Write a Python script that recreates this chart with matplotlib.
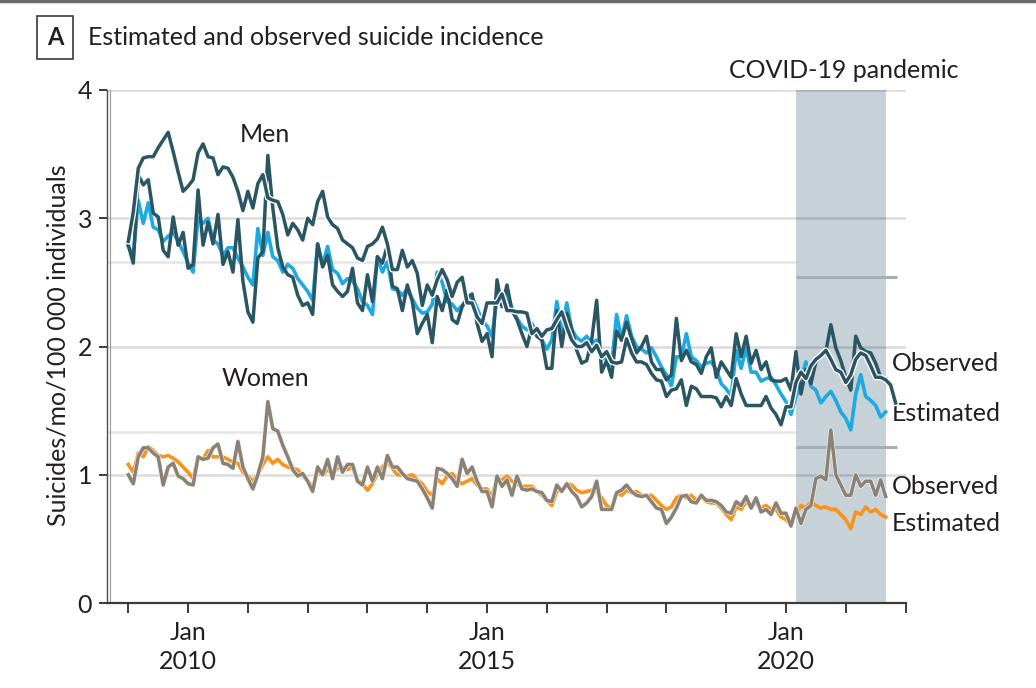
import numpy as np
import matplotlib
matplotlib.use("Agg")
import matplotlib.pyplot as plt
import matplotlib.patheffects as pe
from matplotlib.lines import Line2D

plt.rcParams['font.family'] = ['Lato', 'DejaVu Sans']

# ---------------------------
# Data: monthly rates from Jan 2009 (per 100 000 individuals)
# ---------------------------
first_year = 2009

men_estimated = [
    2.78, 2.71, 3.14, 2.96, 3.12, 2.93, 2.91, 2.82, 2.86, 2.89, 2.82, 2.74,
    2.65, 2.58, 3.00, 2.96, 3.00, 2.83, 2.80, 2.71, 2.77, 2.77, 2.69, 2.62,
    2.54, 2.48, 2.92, 2.71, 2.89, 2.70, 2.67, 2.58, 2.64, 2.61, 2.53, 2.48,
    2.43, 2.36, 2.80, 2.64, 2.78, 2.60, 2.57, 2.49, 2.53, 2.51, 2.45, 2.35,
    2.32, 2.25, 2.70, 2.58, 2.66, 2.45, 2.44, 2.40, 2.45, 2.37, 2.30, 2.26,
    2.27, 2.33, 2.58, 2.50, 2.35, 2.33, 2.28, 2.32, 2.36, 2.38, 2.30, 2.20,
    2.16, 2.08, 2.38, 2.32, 2.40, 2.30, 2.22, 2.16, 2.13, 2.18, 2.10, 2.05,
    1.98, 2.05, 2.35, 2.12, 2.34, 2.13, 2.07, 2.04, 2.08, 2.02, 2.05, 1.92,
    1.90, 1.85, 2.25, 2.05, 2.24, 2.08, 2.00, 1.98, 1.95, 1.99, 1.92, 1.84,
    1.78, 1.69, 1.92, 1.92, 2.10, 1.92, 1.89, 1.84, 1.87, 1.88, 1.82, 1.71,
    1.67, 1.61, 1.97, 1.83, 1.99, 1.80, 1.80, 1.73, 1.75, 1.76, 1.70, 1.63,
    1.57, 1.47, 1.61, 1.74, 1.88, 1.69, 1.66, 1.56, 1.61, 1.65, 1.58, 1.49,
    1.44, 1.35, 1.63, 1.78, 1.61, 1.58, 1.54, 1.45, 1.49,
]

men_observed = [
    2.79, 2.65, 3.34, 3.26, 3.30, 3.04, 3.01, 2.75, 2.70, 3.01, 2.79, 2.89,
    2.61, 2.64, 3.22, 2.79, 2.97, 2.80, 3.03, 2.64, 2.74, 2.58, 2.99, 2.51,
    2.27, 2.19, 2.69, 2.74, 3.49, 3.08, 2.77, 2.62, 2.56, 2.54, 2.40, 2.32,
    2.34, 2.25, 2.80, 2.62, 2.71, 2.48, 2.43, 2.39, 2.43, 2.61, 2.34, 2.28,
    2.56, 2.35, 2.70, 2.65, 2.79, 2.47, 2.45, 2.28, 2.48, 2.35, 2.10, 2.18,
    2.25, 2.03, 2.39, 2.28, 2.44, 2.21, 2.18, 2.31, 2.38, 2.41, 2.18, 2.04,
    2.10, 1.92, 2.52, 2.31, 2.48, 2.28, 2.21, 2.10, 2.00, 2.15, 2.08, 2.05,
    1.83, 1.83, 2.28, 2.00, 2.26, 2.14, 1.97, 1.87, 1.89, 2.05, 2.36, 1.80,
    1.89, 1.76, 2.12, 2.05, 2.19, 2.06, 1.95, 2.00, 2.08, 1.88, 1.82, 1.82,
    1.74, 1.78, 2.22, 1.89, 1.97, 1.88, 1.86, 1.79, 1.92, 1.99, 1.76, 1.88,
    1.82, 1.76, 2.10, 1.92, 2.08, 1.87, 1.97, 1.82, 1.88, 1.74, 1.73, 1.73,
    1.75, 1.66, 1.96, 1.63, 1.82, 1.71, 1.88, 1.93, 1.96, 2.17, 1.99, 1.89,
    1.76, 1.66, 2.08, 1.99, 1.96, 1.95, 1.87, 1.76, 1.75,
]

# second observed trace for men (outlined in white in the source figure)
men_observed_trace = [
    2.82, 3.05, 3.39, 3.47, 3.48, 3.48, 3.55, 3.61, 3.67, 3.52, 3.36, 3.21,
    3.25, 3.30, 3.51, 3.58, 3.48, 3.47, 3.34, 3.40, 3.39, 3.32, 3.21, 3.06,
    3.21, 3.08, 3.27, 3.34, 3.16, 3.14, 3.13, 3.03, 2.87, 2.96, 2.91, 2.83,
    3.00, 2.95, 3.13, 3.21, 3.01, 2.95, 2.92, 2.83, 2.80, 2.77, 2.69, 2.67,
    2.78, 2.80, 2.84, 2.93, 2.80, 2.60, 2.60, 2.75, 2.62, 2.67, 2.57, 2.32,
    2.48, 2.40, 2.52, 2.60, 2.52, 2.39, 2.50, 2.54, 2.34, 2.34, 2.23, 2.18,
    2.34, 2.34, 2.34, 2.41, 2.28, 2.28, 2.27, 2.27, 2.26, 2.10, 2.14, 2.08,
    2.13, 2.14, 2.21, 2.27, 2.15, 2.05, 2.00, 2.00, 2.03, 1.96, 2.01, 1.92,
    1.96, 1.88, 1.87, 1.88, 2.06, 1.95, 1.88, 1.88, 1.86, 1.79, 1.74, 1.73,
    1.61, 1.66, 1.67, 1.74, 1.54, 1.69, 1.67, 1.61, 1.61, 1.61, 1.60, 1.53,
    1.61, 1.54, 1.75, 1.63, 1.54, 1.54, 1.54, 1.54, 1.61, 1.52, 1.47, 1.39,
    1.53, 1.53, 1.72, 1.80, 1.75, 1.85, 1.90, 1.93, 1.97, 1.90, 1.82, 1.80,
    1.72, 1.78, 1.90, 1.95, 1.93, 1.85, 1.76, 1.76, 1.74, 1.70, 1.56,
]

women_estimated = [
    1.08, 1.02, 1.17, 1.14, 1.22, 1.19, 1.15, 1.14, 1.15, 1.13, 1.10, 1.06,
    1.02, 0.97, 1.14, 1.12, 1.19, 1.14, 1.14, 1.14, 1.12, 1.10, 1.09, 1.02,
    0.99, 0.95, 1.00, 1.08, 1.14, 1.09, 1.12, 1.08, 1.06, 1.05, 1.04, 0.99,
    0.95, 0.91, 1.02, 1.00, 1.04, 1.01, 1.05, 1.06, 1.04, 1.06, 0.96, 0.93,
    0.88, 0.93, 1.01, 1.06, 1.10, 1.05, 1.00, 1.00, 0.99, 1.00, 0.96, 0.93,
    0.87, 0.84, 0.97, 0.93, 0.99, 1.01, 0.96, 0.93, 0.95, 0.97, 0.92, 0.89,
    0.89, 0.83, 0.97, 0.96, 0.99, 0.95, 0.93, 0.91, 0.91, 0.91, 0.87, 0.84,
    0.80, 0.76, 0.87, 0.88, 0.93, 0.92, 0.88, 0.86, 0.87, 0.88, 0.87, 0.82,
    0.76, 0.74, 0.86, 0.84, 0.88, 0.86, 0.87, 0.84, 0.83, 0.84, 0.80, 0.76,
    0.73, 0.75, 0.82, 0.84, 0.82, 0.84, 0.80, 0.83, 0.79, 0.78, 0.78, 0.74,
    0.69, 0.65, 0.75, 0.73, 0.79, 0.75, 0.78, 0.74, 0.76, 0.73, 0.73, 0.67,
    0.65, 0.61, 0.70, 0.76, 0.74, 0.79, 0.76, 0.74, 0.75, 0.73, 0.73, 0.69,
    0.65, 0.58, 0.71, 0.69, 0.75, 0.71, 0.73, 0.69, 0.67,
]

women_observed = [
    1.00, 0.93, 1.14, 1.21, 1.21, 1.17, 1.14, 0.92, 1.06, 1.09, 0.99, 0.97,
    0.93, 0.92, 1.14, 1.12, 1.13, 1.21, 1.24, 1.09, 1.08, 1.05, 1.26, 1.06,
    0.97, 0.89, 1.00, 1.14, 1.57, 1.36, 1.34, 1.23, 1.14, 1.04, 0.99, 1.01,
    0.95, 0.87, 1.06, 1.00, 1.12, 0.97, 1.14, 1.02, 1.08, 1.08, 0.95, 0.92,
    1.06, 0.95, 1.06, 0.97, 1.15, 1.06, 1.06, 1.01, 0.97, 0.96, 0.95, 0.89,
    0.82, 0.74, 1.05, 1.04, 1.01, 0.97, 0.91, 1.12, 1.01, 1.06, 0.95, 0.87,
    0.87, 0.75, 0.99, 0.91, 0.96, 0.84, 0.99, 0.89, 0.88, 0.89, 0.87, 0.86,
    0.80, 0.79, 0.92, 0.87, 0.93, 0.87, 0.83, 0.75, 0.78, 0.83, 0.95, 0.73,
    0.73, 0.73, 0.86, 0.88, 0.92, 0.87, 0.84, 0.83, 0.84, 0.79, 0.74, 0.73,
    0.62, 0.67, 0.74, 0.83, 0.84, 0.79, 0.78, 0.84, 0.80, 0.80, 0.79, 0.76,
    0.71, 0.70, 0.79, 0.76, 0.83, 0.74, 0.82, 0.71, 0.73, 0.69, 0.78, 0.70,
    0.70, 0.60, 0.74, 0.62, 0.73, 0.76, 0.97, 0.99, 0.96, 1.35, 1.00, 0.92,
    0.84, 0.84, 1.00, 0.91, 0.95, 0.95, 0.84, 0.96, 0.83,
]

pandemic_start = 2020 + 2 / 12   # Mar 2020
pandemic_end = 2021 + 8 / 12     # Sep 2021

# faint extra rules that appear in the source figure
extra_rules_pre = [2.66, 1.33]
extra_rules_pandemic = [2.54, 1.22]
extra_rules_pandemic_end = 2021.85

year_ticks = list(range(2009, 2023))
labelled_years = [2010, 2015, 2020]


def months_to_years(series):
    return first_year + np.arange(len(series)) / 12


# ---------------------------
# Colours
# ---------------------------
C_MEN_OBS = "#2a5664"
C_MEN_EST = "#1ea9e1"
C_WOM_OBS = "#8b8275"
C_WOM_EST = "#f7941e"
C_SHADE = "#c6d1d8"
C_TEXT = "#231f20"
FS = 18

fig = plt.figure(figsize=(10.36, 6.88), dpi=100)
ax = fig.add_axes([0.1036, 0.1235, 0.7705, 0.7457])

ax.set_xlim(2008.649, 2022.0)
ax.set_ylim(0, 4)

# pandemic shading
ax.axvspan(pandemic_start, pandemic_end, color=C_SHADE, lw=0, zorder=0)

# gridlines (semi-transparent so they darken over the shading)
for v in [1, 2, 3, 4]:
    ax.axhline(v, color="black", alpha=0.14, lw=1.8, zorder=1)
ax.hlines(extra_rules_pre, 2008.649, pandemic_start, color="black", alpha=0.1, lw=1.8, zorder=1)
ax.hlines(extra_rules_pandemic, pandemic_start, extra_rules_pandemic_end,
          color="#a4afb7", lw=2.2, zorder=1)

halo = [pe.withStroke(linewidth=4.4, foreground="white")]
thin_halo = [pe.withStroke(linewidth=3.4, foreground="#f2f2f2")]

# women
ax.plot(months_to_years(women_estimated), women_estimated, color=C_WOM_EST, lw=2.6, zorder=3)
ax.plot(months_to_years(women_observed), women_observed, color=C_WOM_OBS, lw=2.5, zorder=4,
        path_effects=thin_halo)

# men
ax.plot(months_to_years(men_estimated), men_estimated, color=C_MEN_EST, lw=2.6, zorder=3)
ax.plot(months_to_years(men_observed), men_observed, color=C_MEN_OBS, lw=2.5, zorder=4)
ax.plot(months_to_years(men_observed_trace), men_observed_trace, color=C_MEN_OBS, lw=2.5,
        zorder=5, path_effects=halo)

# axes styling
for side in ["top", "right"]:
    ax.spines[side].set_visible(False)
ax.spines["left"].set_color("#4d4d4d")
ax.spines["bottom"].set_color("#3a3a3a")
ax.spines["left"].set_linewidth(1.0)
ax.spines["bottom"].set_linewidth(1.6)
ax.add_line(Line2D([0.003, 0.003], [0, 1], transform=ax.transAxes, color="#9a9a9a", lw=0.8))

ax.set_yticks([0, 1, 2, 3, 4])
ax.set_xticks(year_ticks)
ax.set_xticklabels(["Jan\n%d" % y if y in labelled_years else "" for y in year_ticks])
ax.tick_params(axis="y", length=6, width=1.4, color="#3a3a3a", pad=5,
               labelsize=FS, labelcolor=C_TEXT)
ax.tick_params(axis="x", length=7, width=1.4, color="#3a3a3a", pad=6,
               labelsize=FS, labelcolor=C_TEXT)
for lab in ax.get_xticklabels():
    lab.set_linespacing(1.3)

fig.text(0.056, 0.4985, "Suicides/mo/100 000 individuals", rotation=90,
         ha="center", va="center", fontsize=FS, color=C_TEXT)

# annotations
ax.text(2011.29, 3.65, "Men", ha="center", va="center", fontsize=FS, color=C_TEXT)
ax.text(2011.29, 1.75, "Women", ha="center", va="center", fontsize=FS, color=C_TEXT)
ax.text(2021.77, 1.87, "Observed", ha="left", va="center", fontsize=FS, color=C_TEXT, clip_on=False)
ax.text(2021.77, 1.48, "Estimated", ha="left", va="center", fontsize=FS, color=C_TEXT, clip_on=False)
ax.text(2021.77, 0.91, "Observed", ha="left", va="center", fontsize=FS, color=C_TEXT, clip_on=False)
ax.text(2021.77, 0.62, "Estimated", ha="left", va="center", fontsize=FS, color=C_TEXT, clip_on=False)
ax.text(2020.97, 4.15, "COVID-19 pandemic", ha="center", va="center", fontsize=FS,
        color=C_TEXT, clip_on=False)

# panel letter and title
fig.text(0.053, 0.946, "A", ha="center", va="center", fontsize=17, fontweight="bold",
         color=C_TEXT,
         bbox=dict(boxstyle="square,pad=0.42", facecolor="white", edgecolor="#3a3a3a", lw=1.2))
fig.text(0.085, 0.946, "Estimated and observed suicide incidence", ha="left", va="center",
         fontsize=FS, color=C_TEXT)

# thin shadow band along the top edge
fig.add_artist(Line2D([0, 1], [0.998, 0.998], transform=fig.transFigure, color="#6a6a6a", lw=2.5))

fig.savefig("out.png", dpi=100)
